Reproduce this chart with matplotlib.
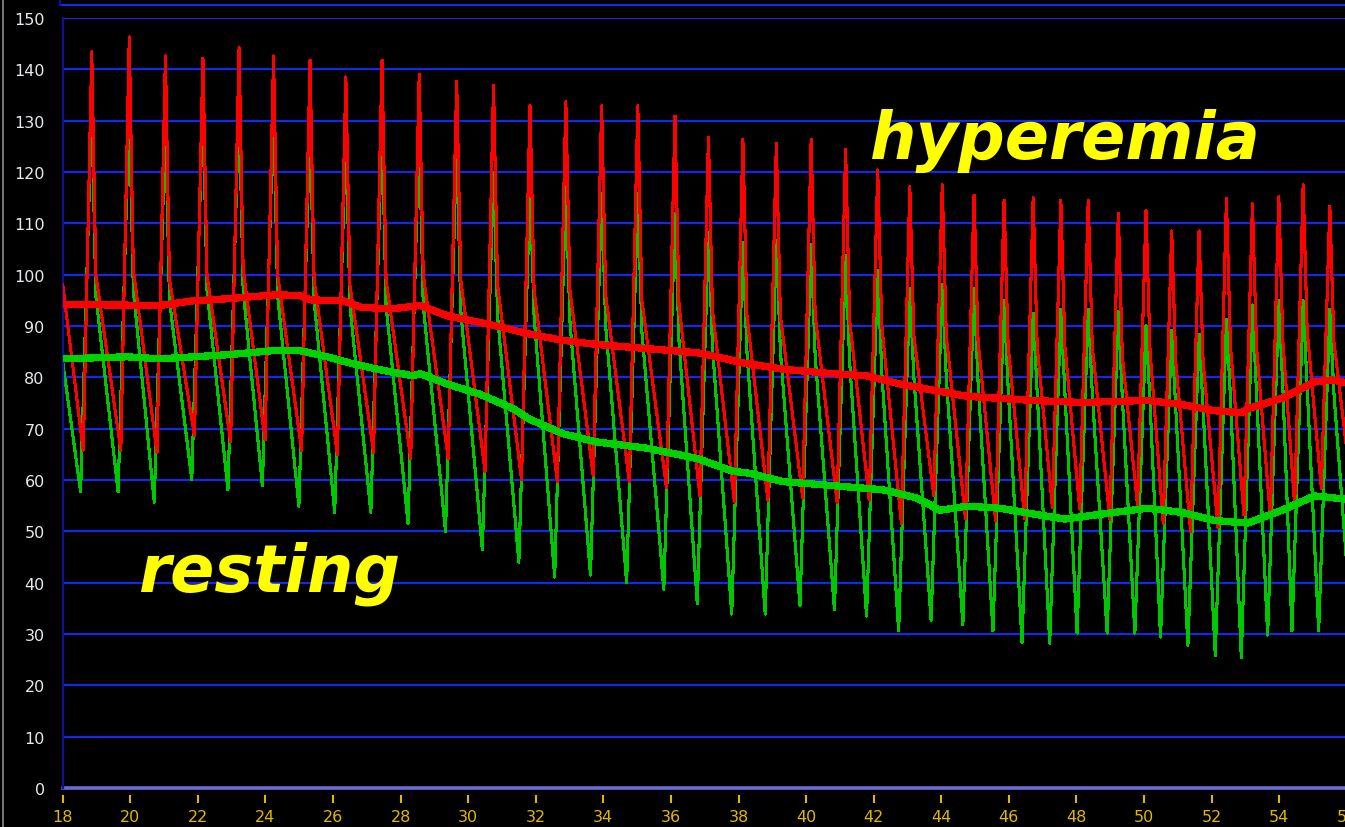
import numpy as np
import matplotlib
matplotlib.use("Agg")
import matplotlib.pyplot as plt
from matplotlib.lines import Line2D

# beat timing (s) - time of each systolic peak, shared by both traces
beat_t = [18.86, 19.97, 21.04, 22.15, 23.22, 24.24, 25.32, 26.38, 27.45,
          28.55, 29.66, 30.75, 31.83, 32.89, 33.95, 35.02, 36.12,
          37.11, 38.13, 39.12, 40.15, 41.17, 42.12, 43.07, 44.03, 44.97, 45.86,
          46.72, 47.54, 48.35, 49.24, 50.06, 50.82, 51.63, 52.44, 53.21, 53.99, 54.71, 55.50]

# hyperemia (red) pressure trace
red_start = 98.0
red_peak = [143.4, 146.3, 142.6, 142.2, 144.2, 142.6, 141.8, 138.5, 141.8,
            139.0, 137.7, 136.9, 132.9, 133.7, 132.9, 132.9, 130.9,
            126.8, 126.4, 125.6, 126.4, 124.4, 120.4, 117.1, 117.5, 115.5, 114.5,
            115.0, 114.5, 114.5, 112.0, 112.5, 108.5, 108.5, 114.8, 113.8, 115.2, 117.5, 113.3]
red_shoulder = [100, 101, 99, 100, 101, 100, 99, 98, 99,
                100, 99, 98, 97, 97, 96, 95, 94,
                93, 92, 92, 92, 91, 90, 88, 88, 87, 86,
                86, 86, 86, 84, 85, 83, 83, 86, 86, 87, 89, 87]
red_trough = [65.8, 65.8, 65.4, 68.6, 67.4, 67.8, 65.8, 65.0, 65.4,
              64.2, 64.2, 61.7, 60.1, 59.7, 60.9, 59.7, 58.5, 56.9,
              55.7, 56.1, 56.5, 55.7, 56.1, 51.6, 56.9, 52.4, 52.0, 52.5,
              54.7, 54.3, 52.4, 55.1, 51.6, 50.0, 50.8, 53.2, 52.8, 55.1, 58.4,
              55.0]

# resting (green) pressure trace
green_start = 83.0
green_peak = [133.3, 133.0, 130.0, 134.0, 134.5, 133.0, 130.0, 128.4, 129.6,
              128.4, 125.6, 119.9, 117.5, 117.5, 115.9, 115.9, 111.9,
              108.2, 106.2, 106.6, 105.8, 103.8, 100.9, 97.3, 98.1, 97.3, 94.9,
              92.5, 93.3, 93.3, 92.9, 90.0, 89.2, 88.4, 91.3, 94.1, 94.9, 94.9, 93.3]
green_shoulder = [96, 97, 95, 97, 97, 96, 95, 94, 94,
                  94, 93, 92, 92, 91, 90, 89, 87,
                  86, 85, 85, 84, 83, 81, 80, 80, 79, 78,
                  77, 77, 77, 76, 75, 74, 74, 76, 77, 78, 78, 77]
green_trough = [57.7, 57.7, 55.7, 60.1, 58.1, 58.9, 54.9, 53.7, 53.7,
                51.6, 50.0, 46.4, 44.0, 41.1, 41.5, 40.0, 38.7, 35.9,
                33.9, 33.9, 35.5, 34.7, 33.5, 30.6, 32.7, 31.8, 30.6, 28.4,
                28.2, 30.2, 30.2, 30.2, 29.4, 27.8, 25.8, 25.4, 29.8, 30.6, 30.6,
                26.0]

# mean pressures
red_mean_t = [18.0, 20.88, 21.86, 22.87, 24.35, 25.03, 25.32, 26.30, 26.80, 27.69,
              28.58, 29.38, 30.85, 31.83, 32.81, 33.81, 35.29, 36.77, 37.36, 38.13,
              39.31, 40.79, 41.80, 42.78, 43.76, 44.76, 45.74, 46.68, 48.16, 50.11,
              51.12, 52.09, 52.89, 53.07, 54.08, 55.05, 55.55, 56.2]
red_mean = [94.2, 94.0, 94.9, 95.3, 96.1, 95.9, 95.1, 94.9, 93.7, 93.3,
            94.0, 92.0, 90.0, 88.4, 87.2, 86.4, 85.6, 84.8, 84.0, 82.8,
            81.6, 80.7, 80.3, 78.7, 77.5, 76.3, 75.9, 75.5, 75.1, 75.5,
            74.7, 73.5, 73.1, 73.9, 75.9, 79.1, 79.5, 78.7]
green_mean_t = [18.0, 19.91, 20.88, 22.87, 24.23, 25.03, 25.83, 26.50, 27.30, 27.69,
                28.37, 28.58, 29.38, 30.35, 31.33, 31.83, 32.81, 33.81, 35.29, 36.77,
                37.84, 38.34, 39.31, 40.79, 42.27, 43.28, 43.96, 44.76, 45.74, 47.16,
                47.66, 49.14, 50.11, 51.12, 52.09, 53.07, 54.08, 55.05, 56.2]
green_mean = [83.6, 84.0, 83.6, 84.4, 85.2, 85.2, 84.0, 82.8, 81.6, 81.1,
              80.3, 80.7, 78.7, 76.7, 73.9, 71.8, 69.0, 67.4, 66.2, 64.2,
              61.7, 61.3, 59.7, 58.9, 58.1, 56.5, 54.1, 54.9, 54.5, 52.9,
              52.4, 53.7, 54.5, 53.7, 52.1, 51.6, 54.1, 56.9, 56.1]

x_ticks = list(range(18, 57, 2))
y_ticks = list(range(0, 151, 10))


def pulse_trace(start, peaks, shoulders, troughs, rise):
    # trough -> peak -> shoulder for every beat, then down to the next trough
    t = [18.0]
    v = [start]
    for i, tp in enumerate(beat_t):
        t += [tp - rise, tp, tp + 0.12]
        v += [troughs[i], peaks[i], shoulders[i]]
    t.append(beat_t[-1] + 0.7)
    v.append(troughs[-1])
    return t, v


W, H = 1345, 828
fig = plt.figure(figsize=(W / 100, H / 100), dpi=100, facecolor="black")

px_per_s = 33.79
x0, x1 = 18.0, 56.2
left = 62.7
ax = fig.add_axes([left / W, 39 / H, (x1 - x0) * px_per_s / W, 770 / H])
ax.set_facecolor("black")
ax.set_xlim(x0, x1)
ax.set_ylim(0, 150)

for y in y_ticks[1:]:
    ax.axhline(y, color="#1428e8", lw=1.6, zorder=1)
ax.axhline(0, color="#6a6ad2", lw=2.6, zorder=1, clip_on=False)

gt, gv = pulse_trace(green_start, green_peak, green_shoulder, green_trough, 0.33)
rt, rv = pulse_trace(red_start, red_peak, red_shoulder, red_trough, 0.25)
ax.plot(gt, gv, color="#00c800", lw=1.5, antialiased=False, zorder=2)
ax.plot(rt, rv, color="#ff0000", lw=1.5, antialiased=False, zorder=3)
ax.plot(green_mean_t, green_mean, color="#00d200", lw=4.5, antialiased=False, zorder=4)
ax.plot(red_mean_t, red_mean, color="#ff0000", lw=4.5, antialiased=False, zorder=5)

ax.text(41.89, 122.8, "hyperemia", fontsize=47, fontweight="bold", fontstyle="italic",
        color="#ffff00", va="baseline", ha="left", zorder=6)
ax.text(20.25, 38.4, "resting", fontsize=47, fontweight="bold", fontstyle="italic",
        color="#ffff00", va="baseline", ha="left", zorder=6)

for s in ["top", "right"]:
    ax.spines[s].set_visible(False)
ax.spines["left"].set_color("#10109a")
ax.spines["left"].set_linewidth(1.6)
ax.spines["bottom"].set_position(("outward", 5))
ax.spines["bottom"].set_color("none")

ax.set_xticks(x_ticks)
ax.set_yticks(y_ticks)
ax.tick_params(axis="x", colors="#e0b800", length=6, width=1.5, pad=4, labelsize=11.5)
ax.tick_params(axis="y", colors="#e8e8ee", length=0, pad=13, labelsize=11.5)

# frame of the panel above and the window edge
fig.add_artist(Line2D([60 / W, 1.0], [1 - 6 / H, 1 - 6 / H], color="#1428e8", lw=1.6))
fig.add_artist(Line2D([60 / W, 60 / W], [1 - 6 / H, 1.0], color="#10109a", lw=1.6))
fig.add_artist(Line2D([2.5 / W, 2.5 / W], [0, 1], color="#8c8c8c", lw=1.2))

fig.savefig("out.png", dpi=100, facecolor="black")
